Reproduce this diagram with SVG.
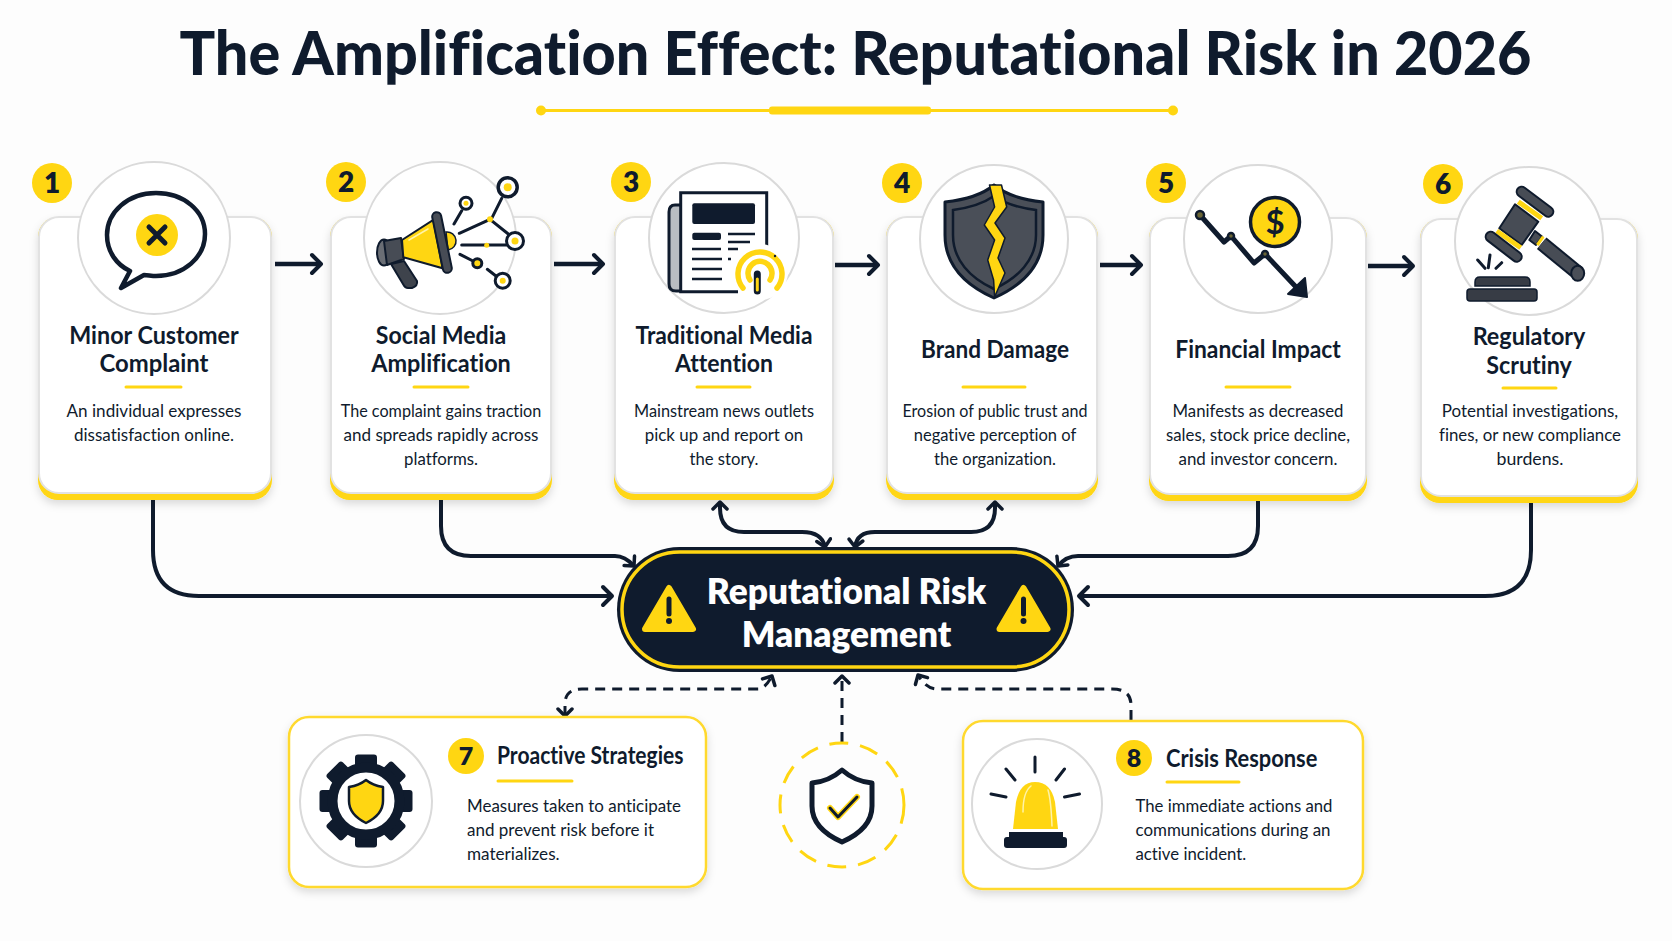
<svg xmlns="http://www.w3.org/2000/svg" xmlns:xlink="http://www.w3.org/1999/xlink" width="1672" height="941" viewBox="0 0 1672 941">
<style>
text{font-family:"Lato","Liberation Sans",sans-serif;fill:#0f1b2d;font-variant-ligatures:none}
.title{font-size:60px;font-weight:900;text-anchor:middle}
.h{font-size:24px;font-weight:700;text-anchor:middle}
.b{font-size:18px;font-weight:400;text-anchor:middle}
.h2{font-size:24px;font-weight:700}
.b2{font-size:18px;font-weight:400}
.n{font-size:28px;font-weight:800;text-anchor:middle}
.bd{fill:#ffd612}
.ul{stroke:#ffd612;stroke-width:3;stroke-linecap:round}
.ring{fill:#fff;stroke:#dadada;stroke-width:2}
.cy{fill:#ffd612}
.cw{fill:#fff;stroke:#e2e2e2;stroke-width:2}
.ln{fill:none;stroke:#0f1b2d;stroke-width:3;stroke-linecap:round;stroke-linejoin:round}
.dk{fill:#0f1b2d}
.gr{fill:#474c55;stroke:#0f1b2d;stroke-width:2;stroke-linejoin:round}
.c{fill:none;stroke:#0f1b2d;stroke-width:4}
.d{fill:none;stroke:#0f1b2d;stroke-width:3;stroke-dasharray:10 7}
.f{stroke-width:4.5}
.card8{fill:#fff;stroke:#ffd92e;stroke-width:2.5}
</style>
<defs>
<filter id="s" x="-10%" y="-10%" width="120%" height="125%"><feDropShadow dx="0" dy="4" stdDeviation="4" flood-color="#000" flood-opacity="0.14"/></filter>
<marker id="a" markerUnits="userSpaceOnUse" markerWidth="18" markerHeight="24" refX="14" refY="12" orient="auto-start-reverse"><path d="M5 3L14 12L5 21" fill="none" stroke="#0f1b2d" stroke-width="4" stroke-linecap="round" stroke-linejoin="round"/></marker>
<marker id="m" markerUnits="userSpaceOnUse" markerWidth="16" markerHeight="18" refX="13" refY="9" orient="auto-start-reverse"><path d="M6 2L13 9L6 16" fill="none" stroke="#0f1b2d" stroke-width="3.5" stroke-linecap="round" stroke-linejoin="round"/></marker>
<g id="tooth"><rect x="-11" y="-46.500" width="22" height="16" rx="3" class="dk"/></g>
</defs>
<rect width="1672" height="941" fill="#fdfdfd"/>
<g id="header">
<text class="title" x="855.500" y="75" textLength="1352" lengthAdjust="spacingAndGlyphs">The Amplification Effect: Reputational Risk in 2026</text>
<path d="M540 110.500H1173" stroke="#ffd612" stroke-width="3"/>
<rect x="769" y="106.500" width="162" height="8" rx="3" fill="#ffd612"/>
<circle cx="541" cy="110.500" r="5" fill="#ffd612"/><circle cx="1173" cy="110.500" r="5" fill="#ffd612"/>
</g>
<g id="connectors">
<path class="c f" marker-end="url(#a)" d="M275 264H321"/>
<path class="c f" marker-end="url(#a)" d="M554 264H603"/>
<path class="c f" marker-end="url(#a)" d="M835 265H878"/>
<path class="c f" marker-end="url(#a)" d="M1100 265H1141"/>
<path class="c f" marker-end="url(#a)" d="M1368 266H1413"/>
<path class="c" marker-end="url(#a)" d="M153 500V550Q153 596 199 596H612"/>
<path class="c" marker-end="url(#m)" d="M441 500V526Q441 556 471 556H615Q625 556 634 566"/>
<path class="c" marker-start="url(#m)" marker-end="url(#m)" d="M720 502V508Q720 532 744 532H802Q822 532 825 547"/>
<path class="c" marker-start="url(#m)" marker-end="url(#m)" d="M995 502V508Q995 532 971 532H875Q857 532 855 547"/>
<path class="c" marker-end="url(#m)" d="M1258 501V526Q1258 556 1228 556H1078Q1066 556 1058 566"/>
<path class="c" marker-end="url(#a)" d="M1531 503V550Q1531 596 1485 596H1079"/>
<path class="d" marker-start="url(#m)" marker-end="url(#m)" d="M565 716V704Q565 689 582 689H758Q765 689 772 676"/>
<path class="d" marker-end="url(#m)" d="M842 742V676"/>
<path class="d" marker-end="url(#m)" d="M1131 720V705Q1131 689 1112 689H937Q926 689 918 675"/>
</g>
<g id="node-1">
<rect class="cy" x="38" y="217" width="234" height="283" rx="20" filter="url(#s)"/>
<rect class="cw" x="39" y="217" width="232" height="276" rx="20"/>
<circle class="ring" cx="154" cy="238" r="76"/>
<path d="M156 193C128 193 107 212 107 235C107 252 117 265 130 271L121 288L144 275C147 275 152 276 156 276C184 276 205 257 205 234C205 211 184 193 156 193Z" fill="#fff" stroke="#0f1b2d" stroke-width="4.500" stroke-linejoin="round"/>
<circle class="bd" cx="157" cy="235" r="21"/>
<path d="M149 227L165 243M165 227L149 243" stroke="#0f1b2d" stroke-width="5" stroke-linecap="round"/>
<circle class="bd" cx="52" cy="183" r="20"/><text class="n" x="52" y="193">1</text>
<text class="h" x="154" y="344" textLength="169.500" lengthAdjust="spacingAndGlyphs">Minor Customer</text><text class="h" x="154" y="372" textLength="109" lengthAdjust="spacingAndGlyphs">Complaint</text>
<path class="ul" d="M126 387H181"/>
<text class="b" x="154" y="417" textLength="175" lengthAdjust="spacingAndGlyphs">An individual expresses</text><text class="b" x="154" y="441" textLength="160" lengthAdjust="spacingAndGlyphs">dissatisfaction online.</text>
</g>
<g id="node-2">
<rect class="cy" x="330" y="217" width="222" height="283" rx="20" filter="url(#s)"/>
<rect class="cw" x="331" y="217" width="220" height="276" rx="20"/>
<circle class="ring" cx="440" cy="238" r="76"/>
<ellipse cx="384" cy="252.500" rx="7" ry="13" fill="#6a6e75" stroke="#0f1b2d" stroke-width="2"/>
<path class="gr" d="M384 241L401 238L404 259L387 265Z"/>
<path d="M391 264L404 261L417 281Q418 286 412 288L408 288Q405 288 403 284Z" fill="#3e434c" stroke="#0f1b2d" stroke-width="2" stroke-linejoin="round"/>
<path d="M446 232A9 9 0 0 1 448 250Z" fill="#ffd612" stroke="#0f1b2d" stroke-width="1.500"/>
<path d="M402 240L433.300 220L442.700 268.300L403.300 257.300Z" fill="#ffd612" stroke="#0f1b2d" stroke-width="2"/>
<path d="M409 240L428 229" stroke="#fff3a8" stroke-width="1.500" stroke-linecap="round"/>
<path d="M436.700 216.700L447.300 268.300" stroke="#0f1b2d" stroke-width="11" stroke-linecap="round"/>
<path d="M436.700 216.700L447.300 268.300" stroke="#474c55" stroke-width="7" stroke-linecap="round"/>
<g class="ln">
<path d="M501.700 198.300L491.700 218.300M461.700 210.700L454 224M459.300 233.300L490 219.300L508.300 234M461.700 245H506.700M460 254.300L473 261M487.300 269.300L496 276"/>
<circle cx="507.700" cy="187.300" r="9.500" fill="#fff" stroke-width="3.500"/><circle cx="466" cy="203.300" r="6" fill="#fff"/><circle cx="515" cy="241" r="8.500" fill="#fff"/><circle cx="477.300" cy="263.300" r="4.500" fill="#ffd612"/><circle cx="502.700" cy="280.700" r="7.500" fill="#fff"/>
</g>
<g class="bd"><circle cx="507.700" cy="187.300" r="4"/><circle cx="466" cy="203.300" r="2.500"/><circle cx="515" cy="241" r="3.500"/><circle cx="502.700" cy="280.700" r="3"/><circle cx="490" cy="219.300" r="3"/><circle cx="486.700" cy="245.300" r="2.500"/></g>
<circle class="bd" cx="346" cy="182" r="20"/><text class="n" x="346" y="192">2</text>
<text class="h" x="441" y="344" textLength="130.500" lengthAdjust="spacingAndGlyphs">Social Media</text><text class="h" x="441" y="372" textLength="139.700" lengthAdjust="spacingAndGlyphs">Amplification</text>
<path class="ul" d="M414 387H468"/>
<text class="b" x="441" y="417" textLength="200.500" lengthAdjust="spacingAndGlyphs">The complaint gains traction</text><text class="b" x="441" y="441" textLength="195" lengthAdjust="spacingAndGlyphs">and spreads rapidly across</text><text class="b" x="441" y="465" textLength="74" lengthAdjust="spacingAndGlyphs">platforms.</text>
</g>
<g id="node-3">
<rect class="cy" x="614" y="217" width="220" height="283" rx="20" filter="url(#s)"/>
<rect class="cw" x="615" y="217" width="218" height="276" rx="20"/>
<circle class="ring" cx="724" cy="238" r="75"/>
<path d="M680.700 205H675Q669 205 669 212V284Q669 291 676 291H684" fill="#b9bdc2" stroke="#0f1b2d" stroke-width="3"/>
<path d="M738 291.700H680.700V192.700H766.700V252" fill="#fff" stroke="#0f1b2d" stroke-width="3"/>
<rect class="dk" x="692.300" y="203.300" width="62.700" height="20.700" rx="2"/><rect class="dk" x="692.300" y="232.700" width="28.700" height="7.300" rx="2"/>
<path d="M728 234H755M728 242H750M692 249H721M728 249H738M692 259H722M728 259H731M692 269H722M692 279H722" stroke="#0f1b2d" stroke-width="2.500"/>
<circle cx="760" cy="272" r="28" fill="#fff"/>
<g fill="none" stroke="#ffd612" stroke-width="5.500" stroke-linecap="round"><path d="M743 288A22 22 0 1 1 777 288"/><path d="M750 280A12 12 0 1 1 770 280"/></g>
<path d="M757.300 274V291" stroke="#0f1b2d" stroke-width="7" stroke-linecap="round"/>
<path d="M757.300 279V290" stroke="#ffd612" stroke-width="3" stroke-linecap="round"/>
<circle cx="775" cy="256" r="1.200" fill="#0f1b2d"/>
<circle class="bd" cx="631" cy="182" r="20"/><text class="n" x="631" y="192">3</text>
<text class="h" x="724" y="344" textLength="177" lengthAdjust="spacingAndGlyphs">Traditional Media</text><text class="h" x="724" y="372" textLength="98" lengthAdjust="spacingAndGlyphs">Attention</text>
<path class="ul" d="M697 387H750"/>
<text class="b" x="724" y="417" textLength="180" lengthAdjust="spacingAndGlyphs">Mainstream news outlets</text><text class="b" x="724" y="441" textLength="158.400" lengthAdjust="spacingAndGlyphs">pick up and report on</text><text class="b" x="724" y="465" textLength="69" lengthAdjust="spacingAndGlyphs">the story.</text>
</g>
<g id="node-4">
<rect class="cy" x="886" y="217" width="212" height="283" rx="20" filter="url(#s)"/>
<rect class="cw" x="887" y="217" width="210" height="276" rx="20"/>
<circle class="ring" cx="994" cy="239" r="74"/>
<path d="M994 185C982 195 964 200 945 202V235C945 265 965 285 994 298C1023 285 1043 265 1043 235V202C1024 200 1006 195 994 185Z" fill="#4a4f58" stroke="#0f1b2d" stroke-width="3" stroke-linejoin="round"/>
<path d="M994 196C984 203 968 208 953 210V235C953 260 970 278 994 289C1018 278 1036 260 1036 235V210C1020 208 1004 203 994 196Z" fill="none" stroke="#0f1b2d" stroke-width="2.500"/>
<path d="M989.500 185L1001.500 185L1006.700 207L995 223L1005 238L998 258L1005 273L994.600 297L993.600 280L987.700 260L994.600 240L984.300 225L994.600 207Z" fill="#ffd612" stroke="#0f1b2d" stroke-width="1.500" stroke-linejoin="round"/>
<circle class="bd" cx="902" cy="183" r="20"/><text class="n" x="902" y="193">4</text>
<text class="h" x="995" y="358" textLength="148" lengthAdjust="spacingAndGlyphs">Brand Damage</text>
<path class="ul" d="M963 387H1025"/>
<text class="b" x="995" y="417" textLength="185" lengthAdjust="spacingAndGlyphs">Erosion of public trust and</text><text class="b" x="995" y="441" textLength="162.500" lengthAdjust="spacingAndGlyphs">negative perception of</text><text class="b" x="995" y="465" textLength="122" lengthAdjust="spacingAndGlyphs">the organization.</text>
</g>
<g id="node-5">
<rect class="cy" x="1149" y="218" width="218" height="283" rx="20" filter="url(#s)"/>
<rect class="cw" x="1150" y="218" width="216" height="276" rx="20"/>
<circle class="ring" cx="1258" cy="239" r="74"/>
<circle class="bd" cx="1275" cy="222" r="24.500" stroke="#0f1b2d" stroke-width="3.500"/>
<text x="1275" y="234" style="font-size:33px;font-weight:700;text-anchor:middle">$</text>
<path class="ln" d="M1200 215L1224 242L1231 236L1254 263L1265 254L1296 287" style="stroke-width:5"/>
<path class="dk" d="M1305 278L1307 297L1288 294Z" stroke="#0f1b2d" stroke-width="2" stroke-linejoin="round"/>
<g fill="#6a6535" stroke="#0f1b2d" stroke-width="2.500"><circle cx="1200" cy="215" r="4"/><circle cx="1231" cy="236" r="3"/><circle cx="1265" cy="254" r="3"/></g>
<circle class="bd" cx="1166" cy="183" r="20"/><text class="n" x="1166" y="193">5</text>
<text class="h" x="1258" y="358" textLength="165.500" lengthAdjust="spacingAndGlyphs">Financial Impact</text>
<path class="ul" d="M1226 387H1290"/>
<text class="b" x="1258" y="417" textLength="171" lengthAdjust="spacingAndGlyphs">Manifests as decreased</text><text class="b" x="1258" y="441" textLength="184" lengthAdjust="spacingAndGlyphs">sales, stock price decline,</text><text class="b" x="1258" y="465" textLength="159" lengthAdjust="spacingAndGlyphs">and investor concern.</text>
</g>
<g id="node-6">
<rect class="cy" x="1420" y="219" width="218" height="284" rx="20" filter="url(#s)"/>
<rect class="cw" x="1421" y="219" width="216" height="277" rx="20"/>
<circle class="ring" cx="1529" cy="241" r="74"/>
<path d="M1541.700 243.300L1578 273" stroke="#0f1b2d" stroke-width="15"/>
<path d="M1541.700 243.300L1578 273" stroke="#474c55" stroke-width="11"/>
<ellipse cx="1577.700" cy="273.300" rx="6.500" ry="7.500" fill="#4a4f58" stroke="#0f1b2d" stroke-width="2"/>
<path d="M1535 231L1542.300 236.700L1536 245L1529.300 240Z" fill="#474c55" stroke="#0f1b2d" stroke-width="2" stroke-linejoin="round"/>
<path d="M1543.300 236.700L1537.300 245" stroke="#ffd612" stroke-width="3"/>
<path d="M1515 204.300L1538.300 221.700L1521.700 245L1499.300 228.300Z" fill="#474c55" stroke="#0f1b2d" stroke-width="2" stroke-linejoin="round"/>
<path d="M1518.300 201.700L1541.700 218.300M1496.700 231L1520.700 247.700" stroke="#ffd612" stroke-width="5"/>
<path d="M1521.700 191.700L1548.300 211.700M1490.700 236.700L1516.700 256.700" stroke="#0f1b2d" stroke-width="12" stroke-linecap="round"/>
<path d="M1521.700 191.700L1548.300 211.700M1490.700 236.700L1516.700 256.700" stroke="#474c55" stroke-width="8" stroke-linecap="round"/>
<path d="M1475 286V282Q1475 277 1480 277H1525Q1530 277 1530 282V286Z" fill="#373c45" stroke="#0f1b2d" stroke-width="1.500"/>
<rect x="1467" y="289" width="70" height="12" rx="3" fill="#373c45" stroke="#0f1b2d" stroke-width="1.500"/>
<path d="M1477.700 260L1485 268.300M1490 255L1488.300 267.700M1501.700 262.700L1496 268.300" stroke="#0f1b2d" stroke-width="3" stroke-linecap="round"/>
<circle class="bd" cx="1443" cy="184" r="20"/><text class="n" x="1443" y="194">6</text>
<text class="h" x="1529" y="345" textLength="112.700" lengthAdjust="spacingAndGlyphs">Regulatory</text><text class="h" x="1529" y="374" textLength="85.600" lengthAdjust="spacingAndGlyphs">Scrutiny</text>
<path class="ul" d="M1503 388H1556"/>
<text class="b" x="1530" y="417" textLength="176.400" lengthAdjust="spacingAndGlyphs">Potential investigations,</text><text class="b" x="1530" y="441" textLength="182" lengthAdjust="spacingAndGlyphs">fines, or new compliance</text><text class="b" x="1530" y="465" textLength="67" lengthAdjust="spacingAndGlyphs">burdens.</text>
</g>
<g id="node-center">
<rect x="617" y="547" width="457" height="125" rx="62.500" class="dk"/>
<rect x="622" y="552" width="447" height="115" rx="57.500" fill="none" stroke="#ffd612" stroke-width="3.500"/>
<path d="M669 588L693 629H645Z" fill="#ffd612" stroke="#ffd612" stroke-width="6" stroke-linejoin="round"/>
<path d="M669 599V614" stroke="#0f1b2d" stroke-width="5" stroke-linecap="round"/><circle class="dk" cx="669" cy="621" r="3"/>
<path d="M1023.500 588L1047.500 629H999.500Z" fill="#ffd612" stroke="#ffd612" stroke-width="6" stroke-linejoin="round"/>
<path d="M1023.500 599V614" stroke="#0f1b2d" stroke-width="5" stroke-linecap="round"/><circle class="dk" cx="1023.500" cy="621" r="3"/>
<text x="846.500" y="604" textLength="279.600" lengthAdjust="spacingAndGlyphs" style="font-size:35px;font-weight:800;text-anchor:middle;fill:#fff">Reputational Risk</text>
<text x="846.500" y="647" textLength="209.600" lengthAdjust="spacingAndGlyphs" style="font-size:35px;font-weight:800;text-anchor:middle;fill:#fff">Management</text>
</g>
<g id="node-7">
<rect class="card8" x="289" y="717" width="417" height="170" rx="20" filter="url(#s)"/>
<circle class="ring" cx="366" cy="801" r="66"/>
<g transform="translate(366 801)">
<use xlink:href="#tooth"/><use xlink:href="#tooth" transform="rotate(45)"/><use xlink:href="#tooth" transform="rotate(90)"/><use xlink:href="#tooth" transform="rotate(135)"/><use xlink:href="#tooth" transform="rotate(180)"/><use xlink:href="#tooth" transform="rotate(225)"/><use xlink:href="#tooth" transform="rotate(270)"/><use xlink:href="#tooth" transform="rotate(315)"/>
<circle r="33.500" fill="#fff" stroke="#0f1b2d" stroke-width="10"/>
<path d="M0 -21C-5 -17 -11 -15 -17 -14V0C-17 10 -10 17 0 22C10 17 17 10 17 0V-14C11 -15 5 -17 0 -21Z" fill="#ffd612" stroke="#0f1b2d" stroke-width="2.500" stroke-linejoin="round"/>
</g>
<circle class="bd" cx="466" cy="756" r="18"/><text class="n" x="466" y="765" style="font-size:25px">7</text>
<text class="h2" x="497" y="764" textLength="186.500" lengthAdjust="spacingAndGlyphs">Proactive Strategies</text>
<path class="ul" d="M498 781H572"/>
<text class="b2" x="467" y="812" textLength="214" lengthAdjust="spacingAndGlyphs">Measures taken to anticipate</text><text class="b2" x="467" y="836" textLength="187" lengthAdjust="spacingAndGlyphs">and prevent risk before it</text><text class="b2" x="467" y="860" textLength="92.600" lengthAdjust="spacingAndGlyphs">materializes.</text>
</g>
<g id="node-shield">
<circle cx="842" cy="805" r="62" fill="#fdfdfd" stroke="#ffd612" stroke-width="3" stroke-dasharray="19 12"/>
<path d="M842 770C833 778 823 782 812 783V806C812 822 824 834 842 842C860 834 872 822 872 806V783C861 782 851 778 842 770Z" fill="#fff" stroke="#0f1b2d" stroke-width="5" stroke-linejoin="round"/>
<path d="M830 808L838 817L857 797" fill="none" stroke="#ffd612" stroke-width="6" stroke-linecap="round" stroke-linejoin="round"/>
<path d="M830 808L838 817L857 797" fill="none" stroke="#0f1b2d" stroke-width="3" stroke-linecap="round" stroke-linejoin="round"/>
</g>
<g id="node-8">
<rect class="card8" x="963" y="721" width="400" height="168" rx="20" filter="url(#s)"/>
<circle class="ring" cx="1037" cy="804" r="65"/>
<path d="M1013 829L1016 802Q1020 782 1035 782Q1051 782 1055 802L1058 829Z" fill="#ffd612"/>
<path d="M1023 812Q1023 792 1031 786M1048 790Q1051 800 1052 826" fill="none" stroke="#fff3a8" stroke-width="1.500" stroke-linecap="round"/>
<rect class="dk" x="1009" y="832" width="54" height="6"/><rect class="dk" x="1004" y="837" width="63" height="11" rx="3"/>
<path d="M1035 757V772M1006 769L1015 780M1064.500 769L1056 780M991 794L1006 797M1079.500 794L1064.500 797" stroke="#0f1b2d" stroke-width="3" stroke-linecap="round"/>
<circle class="bd" cx="1134" cy="758" r="18"/><text class="n" x="1134" y="767" style="font-size:25px">8</text>
<text class="h2" x="1166" y="767" textLength="151.400" lengthAdjust="spacingAndGlyphs">Crisis Response</text>
<path class="ul" d="M1167 782H1239"/>
<text class="b2" x="1135.500" y="812" textLength="197" lengthAdjust="spacingAndGlyphs">The immediate actions and</text><text class="b2" x="1135.500" y="836" textLength="195" lengthAdjust="spacingAndGlyphs">communications during an</text><text class="b2" x="1135.500" y="860" textLength="110.700" lengthAdjust="spacingAndGlyphs">active incident.</text>
</g>
</svg>
